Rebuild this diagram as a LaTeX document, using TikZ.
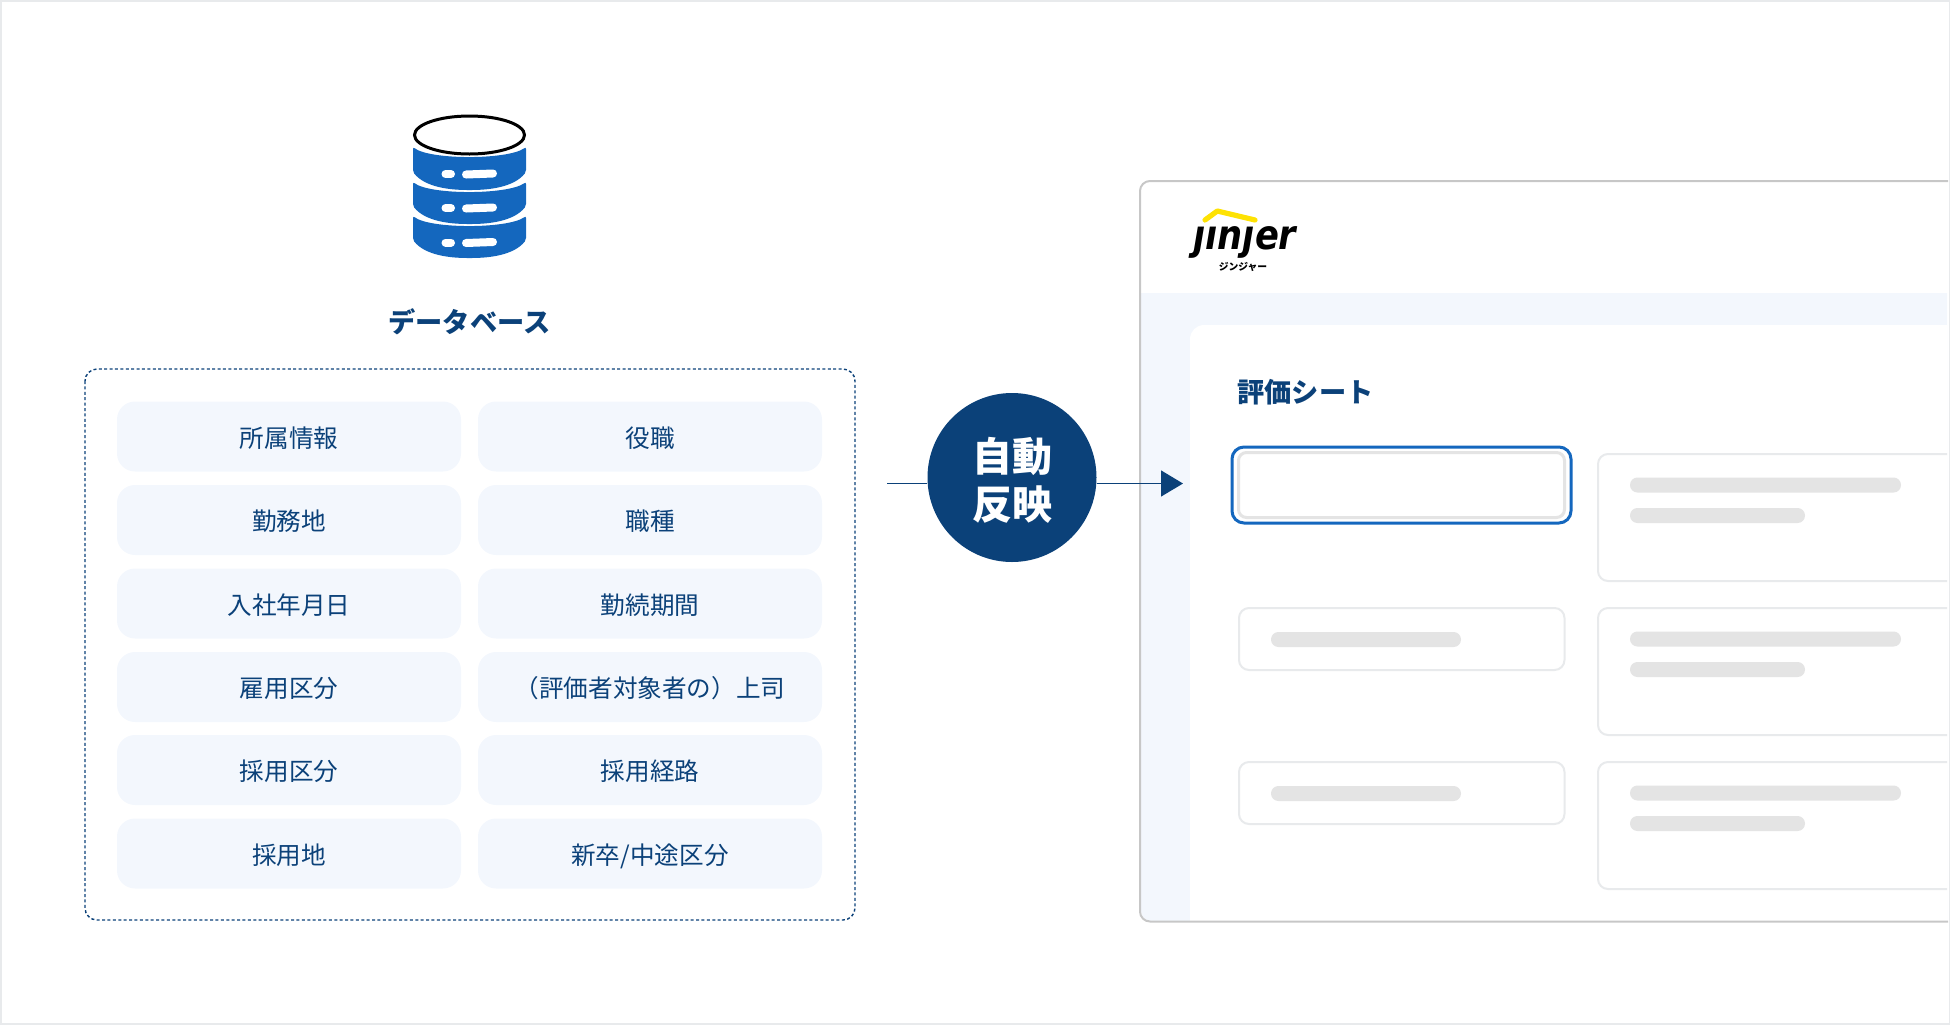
\documentclass[tikz,border=0pt]{standalone}
\usepackage{fontspec}
\setmainfont{Noto Sans CJK JP}
\newfontfamily\logofont{DejaVu Sans}
\usetikzlibrary{arrows.meta,positioning,shapes.geometric}
\definecolor{sotet}{HTML}{0B4179}
\definecolor{kek}{HTML}{1467BE}
\definecolor{halvany}{HTML}{F3F7FD}
\definecolor{szurke}{HTML}{E4E4E4}
\definecolor{keret}{HTML}{E8EAEC}
\tikzset{
  adat/.style={fill=halvany,rounded corners=9pt,minimum width=172pt,minimum height=35pt,
    inner sep=0pt,text=sotet,text height=11pt,text depth=0.4pt,font=\fontsize{12.3}{14}\selectfont},
  cim/.style={text=sotet,inner sep=0pt,font=\fontsize{13.6}{15}\selectfont\bfseries},
  sav/.style={fill=szurke,rounded corners=3.7pt},
  doboz/.style={draw=keret,line width=1pt,fill=white,rounded corners=5pt},
  lyuk/.style={white,line width=4pt,line cap=round},
  vonal/.style={draw=sotet,line width=0.7pt},
  nyil/.style={vonal,-{Triangle[length=11pt,width=13pt]}},
}

\begin{document}
\begin{tikzpicture}[x=0.5pt,y=-0.5pt]
  \useasboundingbox (0,0) rectangle (1950,1024);
  \draw[keret,line width=1.5pt] (0,0) rectangle (1950,1024);

  % adatbazis
  \foreach \y/\k/\v in {147/160/190,182/195/224,216/229/258}{
    \fill[kek,rounded corners=1pt] (413,\y) .. controls (430,\k) and (508,\k) .. (526,\y)
      -- (526,{\v-18}) .. controls (514,{\v-3}) and (490,\v) .. (469.5,\v)
      .. controls (449,\v) and (425,{\v-3}) .. (413,{\v-18}) -- cycle;
  }
  \foreach \y in {174,208,242.5}{
    \draw[lyuk] (445.5,\y) -- (451,\y);
    \draw[lyuk] (466,{\y+0.5}) -- (493,{\y-0.5});
  }
  \node[draw=black,line width=1.5pt,fill=white,ellipse,minimum width=55pt,minimum height=19pt,
    inner sep=0pt] (fej) at (469.5,135) {};
  \node[cim] (dbcim) at (469.5,321.5) {データベース};

  % lista
  \draw[sotet,line width=0.7pt,dash pattern=on 1.5pt off 1.2pt,rounded corners=6pt]
    (85,369) rectangle (855,920);
  \foreach \n/\y/\a/\b in {1/436.5/所属情報/役職,2/520/勤務地/職種,3/603.5/入社年月日/勤続期間,
    4/687/雇用区分/（評価者対象者の）上司,5/770/採用区分/採用経路,6/853.5/採用地/{新卒/中途区分}}{
    \node[adat] (bal\n) at (289,\y) {\a};
    \node[adat] (jobb\n) at (650,\y) {\b};
  }

  % ablak
  \fill[halvany] (1947,293) -- (1141,293) -- (1141,911) arc[start angle=180,end angle=90,radius=10]
    -- (1947,921) -- cycle;
  \fill[white] (1947,325) -- (1204,325) arc[start angle=270,end angle=180,radius=14]
    -- (1190,921) -- (1947,921) -- cycle;
  \draw[draw=black!22,line width=1pt,rounded corners=5pt]
    (1948,181) -- (1140,181) -- (1140,921.5) -- (1948,921.5);

  % nyil
  \node[circle,fill=sotet,minimum size=84.5pt,inner sep=0pt] (auto) at (1012,477.5) {};
  \node[text=white,align=center,inner sep=0pt,font=\fontsize{20}{24}\selectfont\bfseries]
    (autocim) at (1012,480.5) {自動\\反映};
  \coordinate (ki) at (887,483.5);
  \coordinate (be) at (1183,483.5);
  \draw[vonal] (ki) -- (auto.west |- ki);
  \draw[nyil] (auto.east |- be) -- (be);

  % logo
  \draw[yellow!85!orange,line width=2.6pt,line cap=round,line join=round]
    (1205,220) -- (1217.3,211) -- (1255,220);
  \node[anchor=base,inner sep=0pt,font=\logofont\fontsize{20.5}{24}\selectfont\bfseries\itshape] (logo)
    at (1245,249) {\scalebox{0.86}[1]{ȷınȷer}};
  \node[inner sep=0pt,font=\fontsize{4.9}{5}\selectfont\bfseries] (logoja) at (1243,267) {ジンジャー};

  \node[cim] (lapcim) at (1305.5,392) {評価シート};

  % mezok
  \draw[draw=kek,line width=1.5pt,fill=white,rounded corners=6pt] (1232,447) rectangle (1571,523);
  \draw[draw=szurke,line width=1.5pt,rounded corners=4pt] (1238.5,452.5) rectangle (1564.5,517.5);
  \foreach \y in {608,762}{
    \draw[doboz] (1239,\y) rectangle (1564.5,{\y+62});
    \fill[sav] (1271,{\y+24}) rectangle (1461,{\y+39});
  }
  \foreach \y in {454,608,762}{
    \draw[doboz] (1947,\y) -- (1598,\y) -- (1598,{\y+127}) -- (1947,{\y+127});
    \fill[sav] (1630,{\y+23.5}) rectangle (1901,{\y+38.5});
    \fill[sav] (1630,{\y+54}) rectangle (1805,{\y+69});
  }
\end{tikzpicture}
\end{document}
